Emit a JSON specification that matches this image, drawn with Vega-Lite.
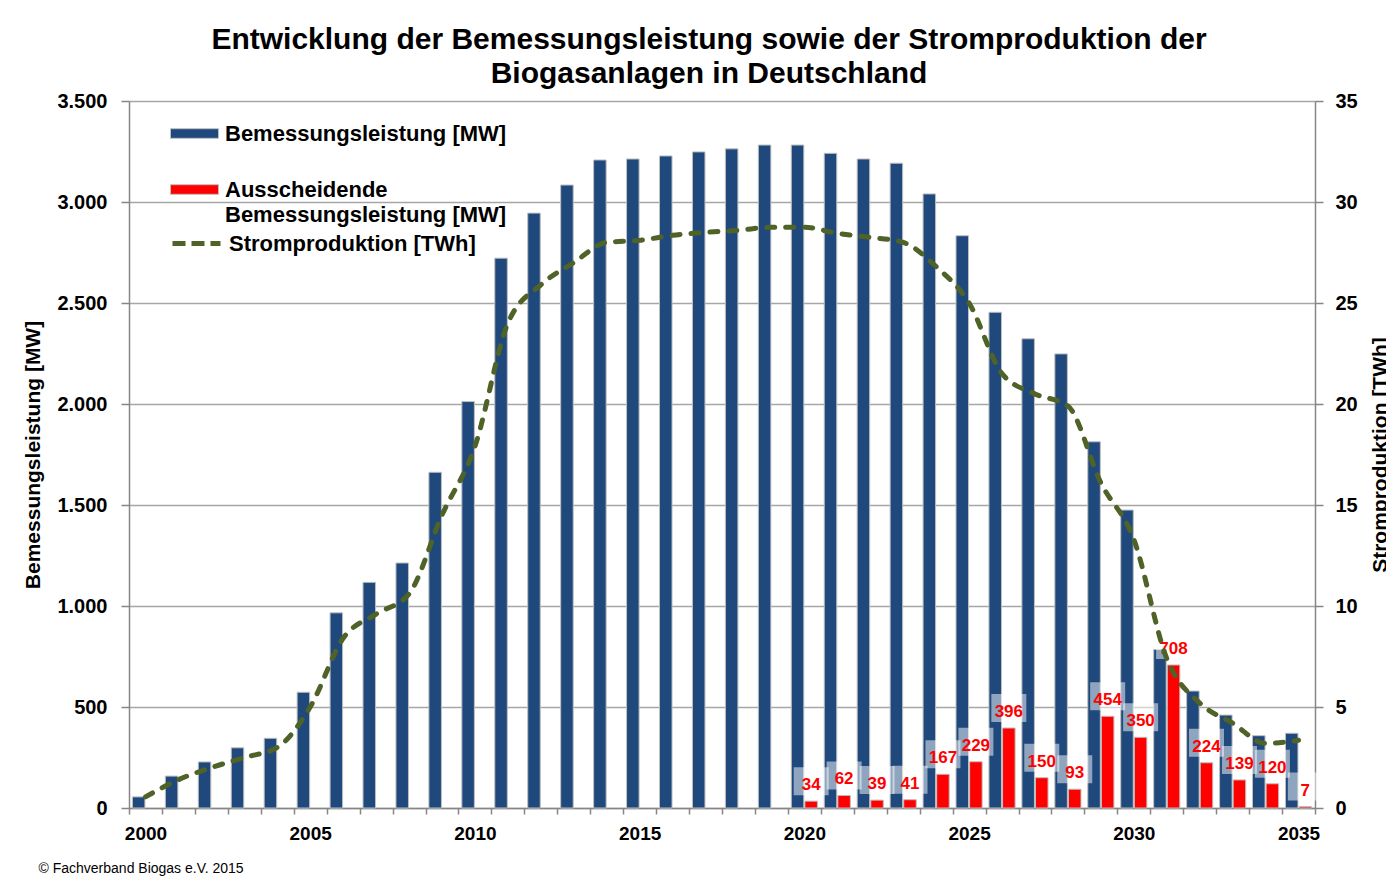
{
  "$schema": "https://vega.github.io/schema/vega-lite/v6.json",
  "width": 1186,
  "height": 707,
  "autosize": {"type": "none"},
  "padding": {"left": 129, "top": 101, "right": 71, "bottom": 73},
  "background": "white",
  "config": {
    "font": "Liberation Sans",
    "view": {"stroke": null},
    "style": {"guide-label": {"lineHeight": 25}}
  },
  "title": {
    "text": ["Entwicklung der Bemessungsleistung sowie der Stromproduktion der", "Biogasanlagen in Deutschland"],
    "fontSize": 30,
    "fontWeight": "bold",
    "font": "Liberation Sans",
    "color": "black",
    "anchor": "middle",
    "frame": "group",
    "dx": -13,
    "offset": 2,
    "lineHeight": 34
  },
  "datasets": {
    "bars": [
      {"year": 2000, "series": "Bemessungsleistung [MW]", "value": 55},
      {"year": 2001, "series": "Bemessungsleistung [MW]", "value": 158},
      {"year": 2002, "series": "Bemessungsleistung [MW]", "value": 228},
      {"year": 2003, "series": "Bemessungsleistung [MW]", "value": 298},
      {"year": 2004, "series": "Bemessungsleistung [MW]", "value": 345},
      {"year": 2005, "series": "Bemessungsleistung [MW]", "value": 573},
      {"year": 2006, "series": "Bemessungsleistung [MW]", "value": 966},
      {"year": 2007, "series": "Bemessungsleistung [MW]", "value": 1117},
      {"year": 2008, "series": "Bemessungsleistung [MW]", "value": 1213},
      {"year": 2009, "series": "Bemessungsleistung [MW]", "value": 1662},
      {"year": 2010, "series": "Bemessungsleistung [MW]", "value": 2012},
      {"year": 2011, "series": "Bemessungsleistung [MW]", "value": 2722},
      {"year": 2012, "series": "Bemessungsleistung [MW]", "value": 2945},
      {"year": 2013, "series": "Bemessungsleistung [MW]", "value": 3084},
      {"year": 2014, "series": "Bemessungsleistung [MW]", "value": 3208},
      {"year": 2015, "series": "Bemessungsleistung [MW]", "value": 3213},
      {"year": 2016, "series": "Bemessungsleistung [MW]", "value": 3228},
      {"year": 2017, "series": "Bemessungsleistung [MW]", "value": 3248},
      {"year": 2018, "series": "Bemessungsleistung [MW]", "value": 3263},
      {"year": 2019, "series": "Bemessungsleistung [MW]", "value": 3282},
      {"year": 2020, "series": "Bemessungsleistung [MW]", "value": 3282},
      {"year": 2021, "series": "Bemessungsleistung [MW]", "value": 3241},
      {"year": 2022, "series": "Bemessungsleistung [MW]", "value": 3213},
      {"year": 2023, "series": "Bemessungsleistung [MW]", "value": 3192},
      {"year": 2024, "series": "Bemessungsleistung [MW]", "value": 3040},
      {"year": 2025, "series": "Bemessungsleistung [MW]", "value": 2833},
      {"year": 2026, "series": "Bemessungsleistung [MW]", "value": 2454},
      {"year": 2027, "series": "Bemessungsleistung [MW]", "value": 2323},
      {"year": 2028, "series": "Bemessungsleistung [MW]", "value": 2248},
      {"year": 2029, "series": "Bemessungsleistung [MW]", "value": 1813},
      {"year": 2030, "series": "Bemessungsleistung [MW]", "value": 1475},
      {"year": 2031, "series": "Bemessungsleistung [MW]", "value": 785},
      {"year": 2032, "series": "Bemessungsleistung [MW]", "value": 579},
      {"year": 2033, "series": "Bemessungsleistung [MW]", "value": 460},
      {"year": 2034, "series": "Bemessungsleistung [MW]", "value": 358},
      {"year": 2035, "series": "Bemessungsleistung [MW]", "value": 370},
      {"year": 2020, "series": "Ausscheidende Bemessungsleistung [MW]", "value": 34},
      {"year": 2021, "series": "Ausscheidende Bemessungsleistung [MW]", "value": 62},
      {"year": 2022, "series": "Ausscheidende Bemessungsleistung [MW]", "value": 39},
      {"year": 2023, "series": "Ausscheidende Bemessungsleistung [MW]", "value": 41},
      {"year": 2024, "series": "Ausscheidende Bemessungsleistung [MW]", "value": 167},
      {"year": 2025, "series": "Ausscheidende Bemessungsleistung [MW]", "value": 229},
      {"year": 2026, "series": "Ausscheidende Bemessungsleistung [MW]", "value": 396},
      {"year": 2027, "series": "Ausscheidende Bemessungsleistung [MW]", "value": 150},
      {"year": 2028, "series": "Ausscheidende Bemessungsleistung [MW]", "value": 93},
      {"year": 2029, "series": "Ausscheidende Bemessungsleistung [MW]", "value": 454},
      {"year": 2030, "series": "Ausscheidende Bemessungsleistung [MW]", "value": 350},
      {"year": 2031, "series": "Ausscheidende Bemessungsleistung [MW]", "value": 708},
      {"year": 2032, "series": "Ausscheidende Bemessungsleistung [MW]", "value": 224},
      {"year": 2033, "series": "Ausscheidende Bemessungsleistung [MW]", "value": 139},
      {"year": 2034, "series": "Ausscheidende Bemessungsleistung [MW]", "value": 120},
      {"year": 2035, "series": "Ausscheidende Bemessungsleistung [MW]", "value": 7}
    ],
    "strom": [
      {"year": 2000, "s": "Stromproduktion [TWh]", "twh": 0.55},
      {"year": 2001, "s": "Stromproduktion [TWh]", "twh": 1.4},
      {"year": 2002, "s": "Stromproduktion [TWh]", "twh": 2.0},
      {"year": 2003, "s": "Stromproduktion [TWh]", "twh": 2.5},
      {"year": 2004, "s": "Stromproduktion [TWh]", "twh": 3.0},
      {"year": 2005, "s": "Stromproduktion [TWh]", "twh": 5.0},
      {"year": 2006, "s": "Stromproduktion [TWh]", "twh": 8.4},
      {"year": 2007, "s": "Stromproduktion [TWh]", "twh": 9.6},
      {"year": 2008, "s": "Stromproduktion [TWh]", "twh": 10.6},
      {"year": 2009, "s": "Stromproduktion [TWh]", "twh": 14.5},
      {"year": 2010, "s": "Stromproduktion [TWh]", "twh": 17.9},
      {"year": 2011, "s": "Stromproduktion [TWh]", "twh": 24.0},
      {"year": 2012, "s": "Stromproduktion [TWh]", "twh": 25.9},
      {"year": 2013, "s": "Stromproduktion [TWh]", "twh": 27.0},
      {"year": 2014, "s": "Stromproduktion [TWh]", "twh": 28.0},
      {"year": 2015, "s": "Stromproduktion [TWh]", "twh": 28.1},
      {"year": 2016, "s": "Stromproduktion [TWh]", "twh": 28.35},
      {"year": 2017, "s": "Stromproduktion [TWh]", "twh": 28.5},
      {"year": 2018, "s": "Stromproduktion [TWh]", "twh": 28.6},
      {"year": 2019, "s": "Stromproduktion [TWh]", "twh": 28.75},
      {"year": 2020, "s": "Stromproduktion [TWh]", "twh": 28.75},
      {"year": 2021, "s": "Stromproduktion [TWh]", "twh": 28.45},
      {"year": 2022, "s": "Stromproduktion [TWh]", "twh": 28.25},
      {"year": 2023, "s": "Stromproduktion [TWh]", "twh": 28.0},
      {"year": 2024, "s": "Stromproduktion [TWh]", "twh": 26.8},
      {"year": 2025, "s": "Stromproduktion [TWh]", "twh": 25.0},
      {"year": 2026, "s": "Stromproduktion [TWh]", "twh": 21.5},
      {"year": 2027, "s": "Stromproduktion [TWh]", "twh": 20.5},
      {"year": 2028, "s": "Stromproduktion [TWh]", "twh": 19.9},
      {"year": 2029, "s": "Stromproduktion [TWh]", "twh": 16.1},
      {"year": 2030, "s": "Stromproduktion [TWh]", "twh": 13.3},
      {"year": 2031, "s": "Stromproduktion [TWh]", "twh": 7.4},
      {"year": 2032, "s": "Stromproduktion [TWh]", "twh": 5.2},
      {"year": 2033, "s": "Stromproduktion [TWh]", "twh": 4.2},
      {"year": 2034, "s": "Stromproduktion [TWh]", "twh": 3.2},
      {"year": 2035, "s": "Stromproduktion [TWh]", "twh": 3.35}
    ]
  },
  "layer": [
    {
      "data": {"name": "bars"},
      "layer": [
        {
          "mark": {"type": "bar", "stroke": "#bfbfbf", "strokeWidth": 1},
          "encoding": {
            "x": {
              "field": "year", "type": "ordinal", "title": "© Fachverband Biogas e.V. 2015",
              "scale": {"paddingInner": 0, "paddingOuter": 0},
              "axis": {
                "titleFontSize": 14, "titleFontWeight": "normal", "titleColor": "black",
                "titleAnchor": "start", "titleAlign": "left", "titleX": -91, "titleY": 60, "titleBaseline": "middle",
                "labelExpr": "datum.value % 5 == 0 ? datum.label : ''",
                "labelAngle": 0, "labelFontSize": 19, "labelFontWeight": "bold", "labelColor": "black",
                "labelPadding": 10, "labelOverlap": false, "labelFlush": false,
                "tickSize": 6, "tickColor": "#868686", "tickWidth": 1.5, "tickBand": "extent",
                "domainColor": "#868686", "domainWidth": 1.5
              }
            },
            "xOffset": {
              "field": "series",
              "scale": {"domain": ["Bemessungsleistung [MW]", "Ausscheidende Bemessungsleistung [MW]"], "paddingInner": 0.08, "paddingOuter": 0.25}
            },
            "y": {
              "field": "value", "type": "quantitative", "title": "Bemessungsleistung [MW]",
              "scale": {"domain": [0, 3500]},
              "axis": {
                "values": [0, 500, 1000, 1500, 2000, 2500, 3000, 3500],
                "labelExpr": "replace(format(datum.value, ',d'), ',', '.')",
                "labelFontSize": 20, "labelFontWeight": "bold", "labelColor": "black", "labelPadding": 14,
                "tickSize": 8, "tickColor": "#868686", "tickWidth": 1.5,
                "domainColor": "#868686", "domainWidth": 1.5,
                "grid": true, "gridColor": "#a6a6a6", "gridWidth": 1.5,
                "titleFontSize": 21, "titleFontWeight": "bold", "titleColor": "black",
                "titleX": -86, "titleY": 353.5, "titleAngle": 270, "titleBaseline": "bottom", "titleAlign": "center"
              }
            },
            "color": {
              "field": "series", "type": "nominal",
              "scale": {"domain": ["Bemessungsleistung [MW]", "Ausscheidende Bemessungsleistung [MW]"], "range": ["#1F497D", "#FF0000"]},
              "legend": {
                "orient": "none", "legendX": 41, "legendY": 8, "title": null,
                "symbolType": "M-1,-0.2H1V0.2H-1Z", "symbolSize": 2304,
                "symbolStrokeColor": "#bfbfbf", "symbolStrokeWidth": 1,
                "labelFontSize": 22, "labelFontWeight": "bold", "labelColor": "black", "labelFont": "Liberation Sans",
                "labelLimit": 500, "labelOffset": 6, "rowPadding": 20, "padding": 0,
                "labelExpr": "datum.label == 'Ausscheidende Bemessungsleistung [MW]' ? ['Ausscheidende', 'Bemessungsleistung [MW]'] : datum.label"
              }
            }
          }
        },
        {
          "transform": [{"filter": "datum.series == 'Ausscheidende Bemessungsleistung [MW]'"}],
          "mark": {"type": "point", "shape": "M-1.25,-1H1.25V1H-1.25Z", "size": 784, "filled": true, "color": "white", "opacity": 0.5, "strokeWidth": 0, "yOffset": -20},
          "encoding": {
            "x": {"field": "year", "type": "ordinal", "title": "© Fachverband Biogas e.V. 2015"},
            "xOffset": {"field": "series"},
            "y": {"field": "value", "type": "quantitative", "title": "Bemessungsleistung [MW]"}
          }
        },
        {
          "transform": [{"filter": "datum.series == 'Ausscheidende Bemessungsleistung [MW]'"}],
          "mark": {"type": "text", "color": "#FF0000", "fontWeight": "bold", "fontSize": 17, "baseline": "bottom", "dy": -7},
          "encoding": {
            "x": {"field": "year", "type": "ordinal", "title": "© Fachverband Biogas e.V. 2015"},
            "xOffset": {"field": "series"},
            "y": {"field": "value", "type": "quantitative", "title": "Bemessungsleistung [MW]"},
            "text": {"field": "value", "type": "quantitative"}
          }
        }
      ]
    },
    {
      "data": {"name": "strom"},
      "mark": {"type": "line", "interpolate": "monotone", "strokeWidth": 5, "strokeDash": [8, 11], "strokeCap": "round"},
      "encoding": {
        "x": {"field": "year", "type": "ordinal", "title": "© Fachverband Biogas e.V. 2015"},
        "y": {
          "field": "twh", "type": "quantitative", "title": "Stromproduktion [TWh]",
          "scale": {"domain": [0, 35]},
          "axis": {
            "orient": "right",
            "values": [0, 5, 10, 15, 20, 25, 30, 35],
            "labelFontSize": 20, "labelFontWeight": "bold", "labelColor": "black", "labelPadding": 12,
            "tickSize": 8, "tickColor": "#868686", "tickWidth": 1.5,
            "domainColor": "#868686", "domainWidth": 1.5, "grid": false,
            "titleFontSize": 21, "titleFontWeight": "bold", "titleColor": "black",
            "titleX": 75, "titleY": 353.5, "titleAngle": 270, "titleBaseline": "bottom", "titleAlign": "center"
          }
        },
        "stroke": {
          "field": "s", "type": "nominal",
          "scale": {"range": ["#4F6228"]},
          "legend": {
            "orient": "none", "legendX": 41, "legendY": 116, "title": null,
            "symbolType": "stroke", "symbolSize": 2304, "symbolStrokeWidth": 5, "symbolDash": [13, 6],
            "labelFontSize": 22, "labelFontWeight": "bold", "labelColor": "black", "labelFont": "Liberation Sans",
            "labelLimit": 500, "labelOffset": 6, "padding": 0
          }
        }
      }
    }
  ],
  "resolve": {"scale": {"y": "independent"}, "axis": {"y": "independent"}}
}
